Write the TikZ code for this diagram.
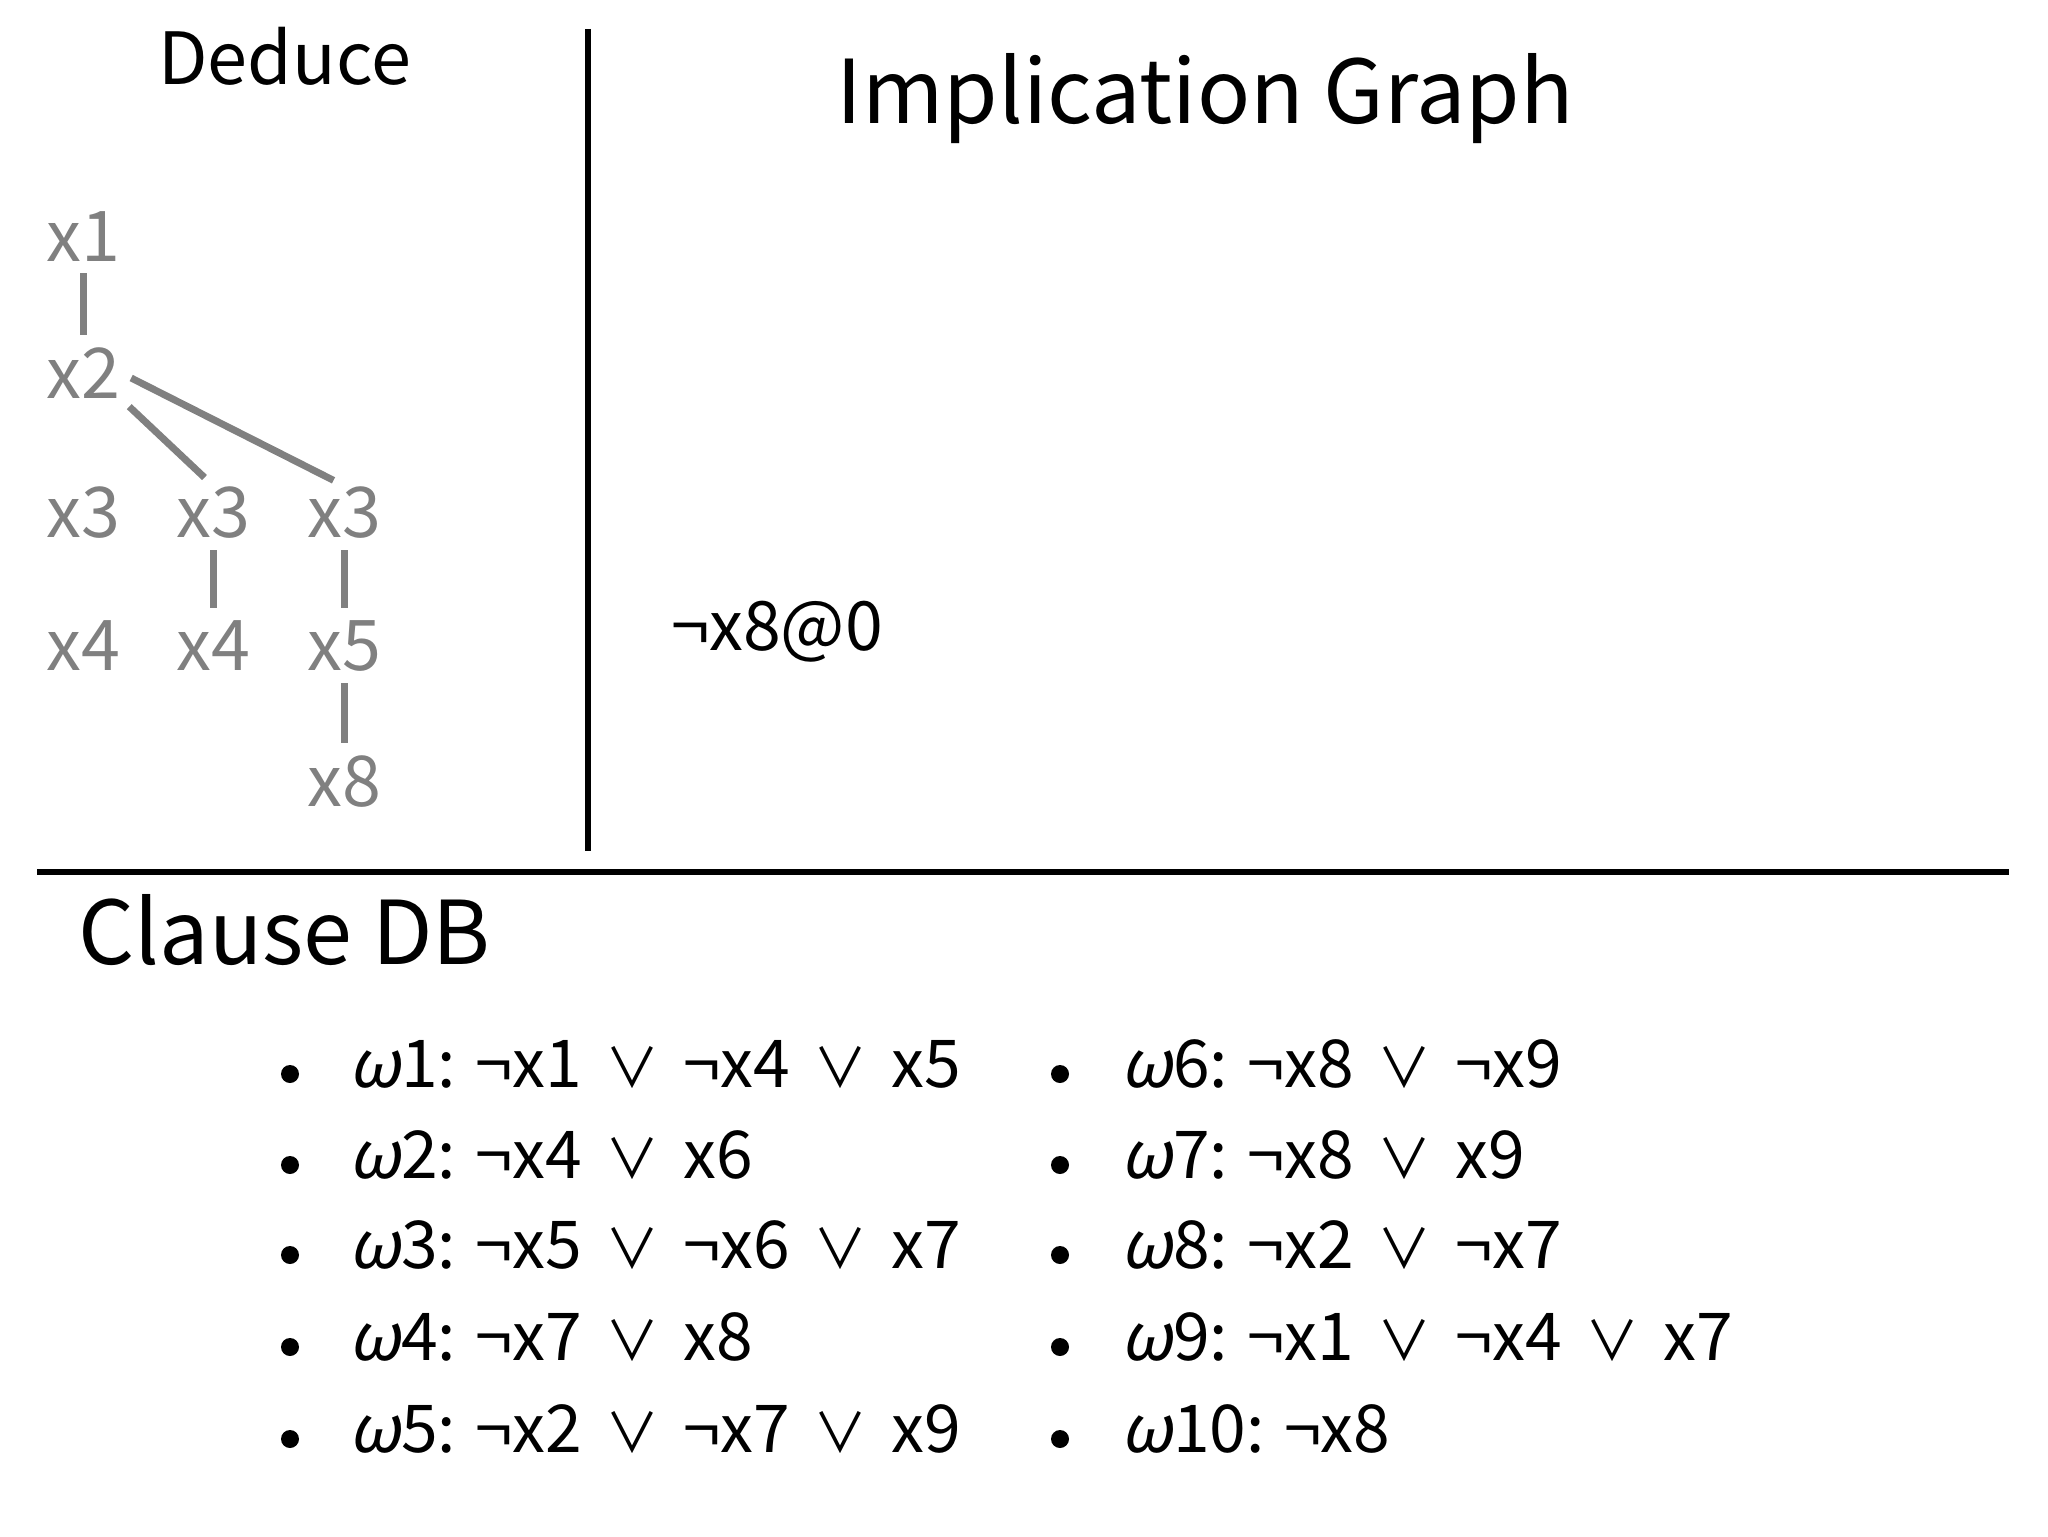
\documentclass[tikz,border=0pt]{standalone}
\usepackage{fontspec}
\setmainfont{Noto Sans CJK JP}
\newfontfamily\omegafont[FakeSlant=0.2]{Noto Sans CJK JP}
\newcommand{\om}{{\omegafont ω}}
\newcommand{\orsym}{\hspace{12pt}{\fontsize{27}{30}\selectfont ∨}\hspace{12pt}}
\tikzset{
  title/.style={anchor=base west, inner sep=0pt, font=\fontsize{36}{40}\selectfont},
  bigtitle/.style={anchor=base west, inner sep=0pt, font=\fontsize{44}{50}\selectfont},
  var/.style={anchor=base west, inner sep=0pt, text=gray, font=\fontsize{35}{40}\selectfont},
  edge/.style={draw=gray, line width=3.5pt},
  rule/.style={draw=black, line width=3pt},
  clause/.style={anchor=base west, inner sep=0pt, font=\fontsize{33}{38}\selectfont},
  bulletdot/.style={circle, fill=black, inner sep=0pt, minimum size=9pt}
}
\begin{document}
\begin{tikzpicture}[x=0.5pt, y=-0.5pt]
  \useasboundingbox (0,0) rectangle (2048,1536);
  % headings
  \node[title] (deduce) at (158,85) {Deduce};
  \node[bigtitle] (graph) at (836,124) {Implication Graph};
  \node[bigtitle] (db) at (78,964) {Clause DB};
  % separators
  \coordinate (vtop) at (588,29);
  \coordinate (vbot) at (588,851);
  \coordinate (hl) at (37,872);
  \coordinate (hr) at (2009,872);
  \draw[rule] (vtop) -- (vbot);
  \draw[rule] (hl) -- (hr);
  % deduce tree
  \node[var] (1) at (46,261) {x1};
  \node[var] (2) at (46,398) {x2};
  \node[var] (3a) at (46,537) {x3};
  \node[var] (3b) at (176,537) {x3};
  \node[var] (3c) at (307,537) {x3};
  \node[var] (4a) at (46,670) {x4};
  \node[var] (4b) at (176,670) {x4};
  \node[var] (5) at (307,670) {x5};
  \node[var] (8) at (307,806) {x8};
  \begin{scope}[shorten >=6pt, shorten <=6pt]
    \draw[edge] (1.south) -- (2.north);
    \draw[edge] (2.south east) -- (3b.north);
    \draw[edge] (2.east) -- (3c.north);
    \draw[edge] (3b.south) -- (4b.north);
    \draw[edge] (3c.south) -- (5.north);
    \draw[edge] (5.south) -- (8.north);
  \end{scope}
  % implication graph
  \node[clause, font=\fontsize{34}{38}\selectfont] (n8) at (671,650) {¬x8@0};
  % clause database
  \node[bulletdot] (b1) at (290,1074) {};
  \node[bulletdot] (b2) at (290,1165) {};
  \node[bulletdot] (b3) at (290,1255) {};
  \node[bulletdot] (b4) at (290,1347) {};
  \node[bulletdot] (b5) at (290,1439) {};
  \node[bulletdot] (b6) at (1060,1074) {};
  \node[bulletdot] (b7) at (1060,1165) {};
  \node[bulletdot] (b8) at (1060,1255) {};
  \node[bulletdot] (b9) at (1060,1347) {};
  \node[bulletdot] (b10) at (1060,1439) {};
  \node[clause] (w1) at (349,1087) {\om1: ¬x1\orsym¬x4\orsym x5};
  \node[clause] (w2) at (349,1178) {\om2: ¬x4\orsym x6};
  \node[clause] (w3) at (349,1268) {\om3: ¬x5\orsym¬x6\orsym x7};
  \node[clause] (w4) at (349,1360) {\om4: ¬x7\orsym x8};
  \node[clause] (w5) at (349,1452) {\om5: ¬x2\orsym¬x7\orsym x9};
  \node[clause] (w6) at (1121,1087) {\om6: ¬x8\orsym¬x9};
  \node[clause] (w7) at (1121,1178) {\om7: ¬x8\orsym x9};
  \node[clause] (w8) at (1121,1268) {\om8: ¬x2\orsym¬x7};
  \node[clause] (w9) at (1121,1360) {\om9: ¬x1\orsym¬x4\orsym x7};
  \node[clause] (w10) at (1121,1452) {\om10: ¬x8};
\end{tikzpicture}
\end{document}
